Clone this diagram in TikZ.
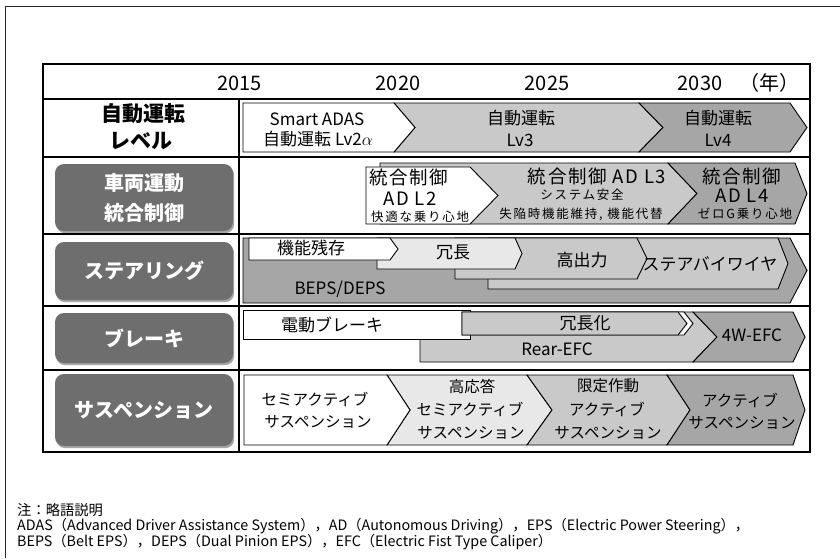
\documentclass[tikz,border=0pt]{standalone}
\usepackage{fontspec}
\setmainfont{Noto Sans CJK JP}
\newfontfamily\jpspaced{Noto Sans CJK JP}[LetterSpace=9]
\newfontfamily\jpspacedS{Noto Sans CJK JP}[LetterSpace=14]
\usetikzlibrary{shadows}
\definecolor{cL}{HTML}{E8E8E8}
\definecolor{cM}{HTML}{C9C9C9}
\definecolor{cD}{HTML}{A6A6A6}
\definecolor{cBtn}{HTML}{6E6E6E}
\newcommand{\myfs}[1]{\fontsize{#1}{#1}\selectfont}
\begin{document}
\begin{tikzpicture}[x=1pt,y=-1pt,
  every node/.style={inner sep=0pt},
  chev/.style={draw=black, line width=0.9pt, line join=miter},
  gridline/.style={draw=black, line width=1.5pt},
  btn/.style={fill=cBtn, rounded corners=9pt, minimum width=178pt, text=white,
    font=\fontsize{20}{30}\selectfont\bfseries, align=center,
    drop shadow={shadow xshift=1.2pt, shadow yshift=-2.2pt, fill=black, opacity=0.35}},
  yr/.style={font=\myfs{20}},
  rowlbl/.style={font=\myfs{21}\bfseries},
  tA/.style={font=\myfs{17}},
  tB/.style={font=\jpspaced\myfs{18.5}},
  tS/.style={font=\jpspacedS\myfs{12.5}},
  tC/.style={font=\myfs{15.5}},
  note/.style={font=\myfs{14.3}, anchor=west}]
\useasboundingbox (0,0) rectangle (840,558);
\fill[white] (0,0) rectangle (840,558);
% outer frame
\draw[line width=1pt, black!85] (5,558) -- (5,6) -- (840,6);

% ---------- row 1 : 自動運転レベル ----------
\filldraw[chev, fill=cM] (394,103) -- (639,103) -- (663,127.5) -- (639,152) -- (394,152) -- (415,127.5) -- cycle;
\filldraw[chev, fill=cD] (639,103) -- (790,103) -- (807,127.5) -- (790,152) -- (639,152) -- (663,127.5) -- cycle;
\filldraw[chev, fill=white] (243,103) -- (394,103) -- (415,127.5) -- (394,152) -- (243,152) -- cycle;
\node[tA] (r1a) at (317,119) {Smart ADAS};
\node[tA] (r1b) at (318,139) {自動運転 Lv2$\alpha$};
\node[tA] (r1c) at (521,118) {自動運転};
\node[tA] (r1d) at (520,140) {Lv3};
\node[tA] (r1e) at (718,118) {自動運転};
\node[tA] (r1f) at (718,140) {Lv4};

% ---------- row 2 : 車両運動統合制御 ----------
\filldraw[chev, fill=cM] (380,163) -- (668,163) -- (697,193.5) -- (668,224) -- (380,224) -- cycle;
\filldraw[chev, fill=cD] (668,163) -- (795,163) -- (807,193.5) -- (795,224) -- (668,224) -- (697,193.5) -- cycle;
\filldraw[chev, fill=white] (366,167) -- (470,167) -- (498,195.5) -- (470,224) -- (366,224) -- cycle;
\node[tB] (r2a) at (409,177) {統合制御};
\node[tB] (r2b) at (410,199) {AD L2};
\node[tS] (r2c) at (420,217) {快適な乗り心地};
\node[tB] (r2d) at (597,176) {統合制御 AD L3};
\node[tS] (r2e) at (582,195) {システム安全};
\node[tS] (r2f) at (581,214) {失陥時機能維持, 機能代替};
\node[tB] (r2g) at (742,176) {統合制御};
\node[tB] (r2h) at (742,196) {AD L4};
\node[tS] (r2i) at (745,214) {ゼロG乗り心地};

% ---------- row 3 : ステアリング ----------
\filldraw[chev, fill=cD] (243,238) -- (790,238) -- (807,270.5) -- (790,303) -- (243,303) -- cycle;
\filldraw[chev, fill=cM] (488,238) -- (778,238) -- (788,263.5) -- (778,289) -- (488,289) -- cycle;
\filldraw[chev, fill=cM] (455,238) -- (637,238) -- (647,258.5) -- (637,279) -- (455,279) -- cycle;
\filldraw[chev, fill=cL] (377,238) -- (515,238) -- (522,253.5) -- (515,269) -- (377,269) -- cycle;
\filldraw[chev, fill=white] (249,238) -- (390,238) -- (398,249) -- (390,260) -- (249,260) -- cycle;
\node[tA] (r3a) at (311,248) {機能残存};
\node[tA] (r3b) at (340,289) {BEPS/DEPS};
\node[tA] (r3c) at (453,252) {冗長};
\node[tA] (r3d) at (582,260) {高出力};
\node[tA] (r3e) at (710,264) {ステアバイワイヤ};

% ---------- row 4 : ブレーキ ----------
\filldraw[chev, fill=cM] (420,312) -- (693,312) -- (717,337) -- (693,362) -- (420,362) -- cycle;
\filldraw[chev, fill=cD] (693,312) -- (793,312) -- (805,337) -- (793,362) -- (693,362) -- (717,337) -- cycle;
\filldraw[chev, fill=white] (243,310) -- (470,310) -- (470,339) -- (243,339) -- cycle;
\filldraw[chev, fill=white] (462,312) -- (684,312) -- (693,323.5) -- (684,335) -- (462,335) -- cycle;
\filldraw[chev, fill=cM] (462,312) -- (678,312) -- (687,323.5) -- (678,335) -- (462,335) -- cycle;
\node[tA] (r4a) at (332,325) {電動ブレーキ};
\node[tA] (r4b) at (585,323) {冗長化};
\node[tA] (r4c) at (557,349.5) {Rear-EFC};
\node[tA] (r4d) at (752,335) {4W-EFC};

% ---------- row 5 : サスペンション ----------
\filldraw[chev, fill=cL] (387,375) -- (527,375) -- (552,410) -- (527,445) -- (387,445) -- (410,410) -- cycle;
\filldraw[chev, fill=cM] (527,375) -- (667,375) -- (690,410) -- (667,445) -- (527,445) -- (552,410) -- cycle;
\filldraw[chev, fill=cD] (667,375) -- (793,375) -- (805,410) -- (793,445) -- (667,445) -- (690,410) -- cycle;
\filldraw[chev, fill=white] (244,375) -- (387,375) -- (410,410) -- (387,445) -- (244,445) -- cycle;
\node[tC] (r5a) at (315,399.5) {セミアクティブ};
\node[tC] (r5b) at (318,421.5) {サスペンション};
\node[tC] (r5c) at (472,386) {高応答};
\node[tC] (r5d) at (470,409.5) {セミアクティブ};
\node[tC] (r5e) at (471,432.5) {サスペンション};
\node[tC] (r5f) at (608,386) {限定作動};
\node[tC] (r5g) at (607,409) {アクティブ};
\node[tC] (r5h) at (608,432.5) {サスペンション};
\node[tC] (r5i) at (740,400.5) {アクティブ};
\node[tC] (r5j) at (742,422.5) {サスペンション};

% ---------- table grid ----------
\draw[gridline] (43,99) -- (810,99);
\draw[gridline] (43,157) -- (810,157);
\draw[gridline] (43,234) -- (810,234);
\draw[gridline] (43,306) -- (810,306);
\draw[gridline] (43,370) -- (810,370);
\draw[gridline] (239,99) -- (239,452);
\draw[draw=black, line width=2pt] (43,64) rectangle (810,452);

% header
\node[yr] (y15) at (239.5,83) {2015};
\node[yr] (y20) at (398,83) {2020};
\node[yr] (y25) at (547,83) {2025};
\node[yr] (y30) at (700,83) {2030};
\node[yr] (ynen) at (769,83) {（年）};

% row labels
\node[rowlbl] (l1a) at (143,114) {自動運転};
\node[rowlbl] (l1b) at (141,141) {レベル};
\node[btn, minimum height=67pt] (b2) at (144,197.5) {車両運動\\統合制御};
\node[btn, minimum height=58pt] (b3) at (144,271) {ステアリング};
\node[btn, minimum height=50pt] (b4) at (144,338) {ブレーキ};
\node[btn, minimum height=72pt] (b5) at (144,410) {サスペンション};

% footnote
\node[note] (n1) at (17,510) {注：略語説明};
\node[note] (n2) at (17,526) {ADAS（Advanced Driver Assistance System），AD（Autonomous Driving），EPS（Electric Power Steering），};
\node[note] (n3) at (17,542) {BEPS（Belt EPS），DEPS（Dual Pinion EPS），EFC（Electric Fist Type Caliper）};
\end{tikzpicture}
\end{document}
